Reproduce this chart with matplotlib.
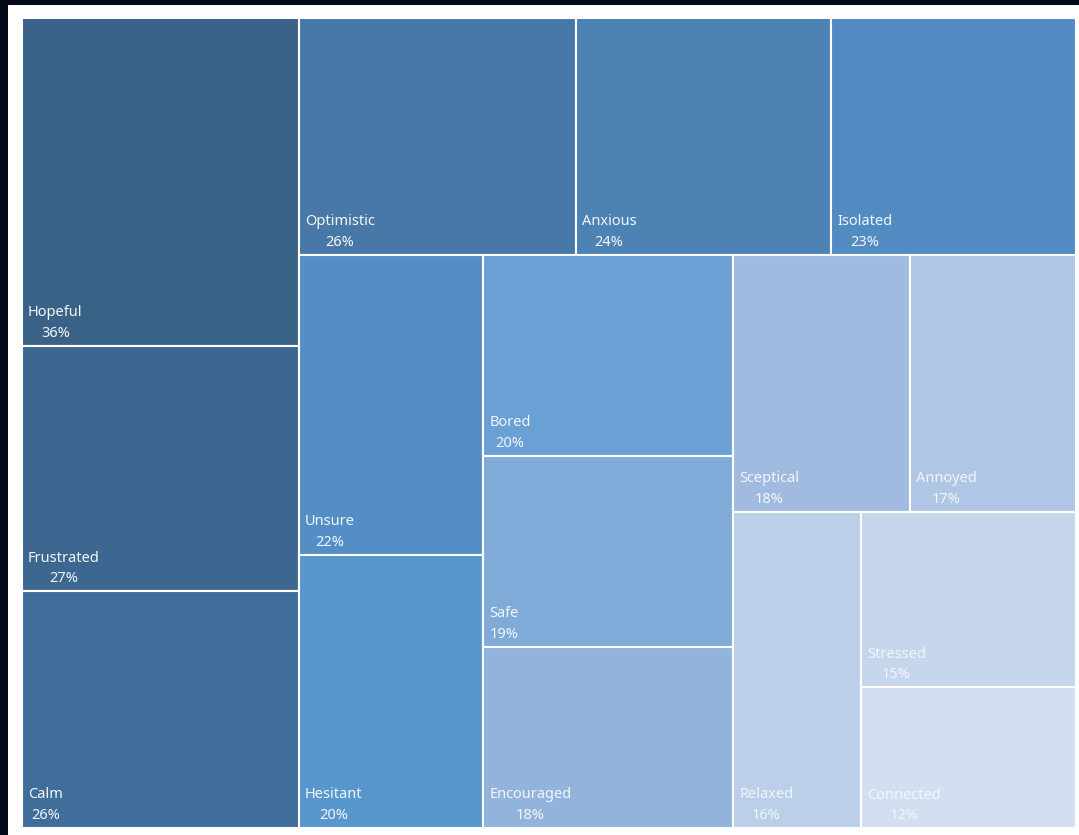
import matplotlib.pyplot as plt
from matplotlib.patches import Rectangle

EMOTIONS = [
    "Hopeful", "Frustrated", "Calm", "Optimistic", "Anxious", "Isolated",
    "Unsure", "Hesitant", "Bored", "Safe", "Encouraged", "Sceptical",
    "Annoyed", "Relaxed", "Stressed", "Connected",
]
PERCENTAGES = [36, 27, 26, 26, 24, 23, 22, 20, 20, 19, 18, 18, 17, 16, 15, 12]

# how many tiles go into each strip of the treemap, in order
STRIP_SIZES = [3, 3, 2, 3, 2, 1, 1, 1]

TILE_COLORS = [
    "#3A6186", "#3D6790", "#406E9A", "#4878A8", "#4D82B4", "#528BC2",
    "#548EC6", "#5896CE", "#6AA0D4", "#80ABD9", "#92B4DC", "#A0BBDF",
    "#B0C6E5", "#BBCFE9", "#C6D6ED", "#D3DEF0",
]

FIG_W, FIG_H = 1079, 835
DPI = 100


def strip_layout(values, strip_sizes, x, y, dx, dy):
    # each strip runs along the shorter side of what is left; y grows downward
    total = sum(values)
    areas = [v * dx * dy / total for v in values]
    rects = []
    i = 0
    for n in strip_sizes:
        row = areas[i:i + n]
        s = sum(row)
        if dx >= dy:
            width = s / dy
            yy = y
            for a in row:
                h = a / width
                rects.append((x, yy, width, h))
                yy += h
            x += width
            dx -= width
        else:
            height = s / dx
            xx = x
            for a in row:
                w = a / height
                rects.append((xx, y, w, height))
                xx += w
            y += height
            dy -= height
        i += n
    return rects


def main():
    fig = plt.figure(figsize=(FIG_W / DPI, FIG_H / DPI), dpi=DPI)
    fig.patch.set_facecolor("#030B1A")

    # white canvas, leaving a thin dark strip on the top and left
    ax_left, ax_top = 8, 5
    ax_w, ax_h = FIG_W - ax_left, FIG_H - ax_top
    ax = fig.add_axes([ax_left / FIG_W, 0, ax_w / FIG_W, ax_h / FIG_H])
    ax.set_xlim(0, ax_w)
    ax.set_ylim(ax_h, 0)
    ax.axis("off")
    ax.add_patch(Rectangle((0, 0), ax_w, ax_h, facecolor="white", edgecolor="none", zorder=0))

    rects = strip_layout(PERCENTAGES, STRIP_SIZES, 14, 13, 1054, 810)

    for (x, y, w, h), name, pct, color in zip(rects, EMOTIONS, PERCENTAGES, TILE_COLORS):
        ax.add_patch(
            Rectangle((x, y), w, h, facecolor=color, edgecolor="white", linewidth=1.5, zorder=1)
        )
        ax.text(
            x + 6,
            y + h - 5,
            f"{name}\n{pct}%",
            ha="left",
            va="bottom",
            multialignment="center",
            linespacing=1.5,
            fontsize=10.5,
            family=["Noto Sans", "DejaVu Sans"],
            color="#F2F6FA",
            zorder=2,
        )

    fig.savefig("out.png", dpi=DPI, facecolor=fig.get_facecolor())
    plt.close(fig)


if __name__ == "__main__":
    main()
